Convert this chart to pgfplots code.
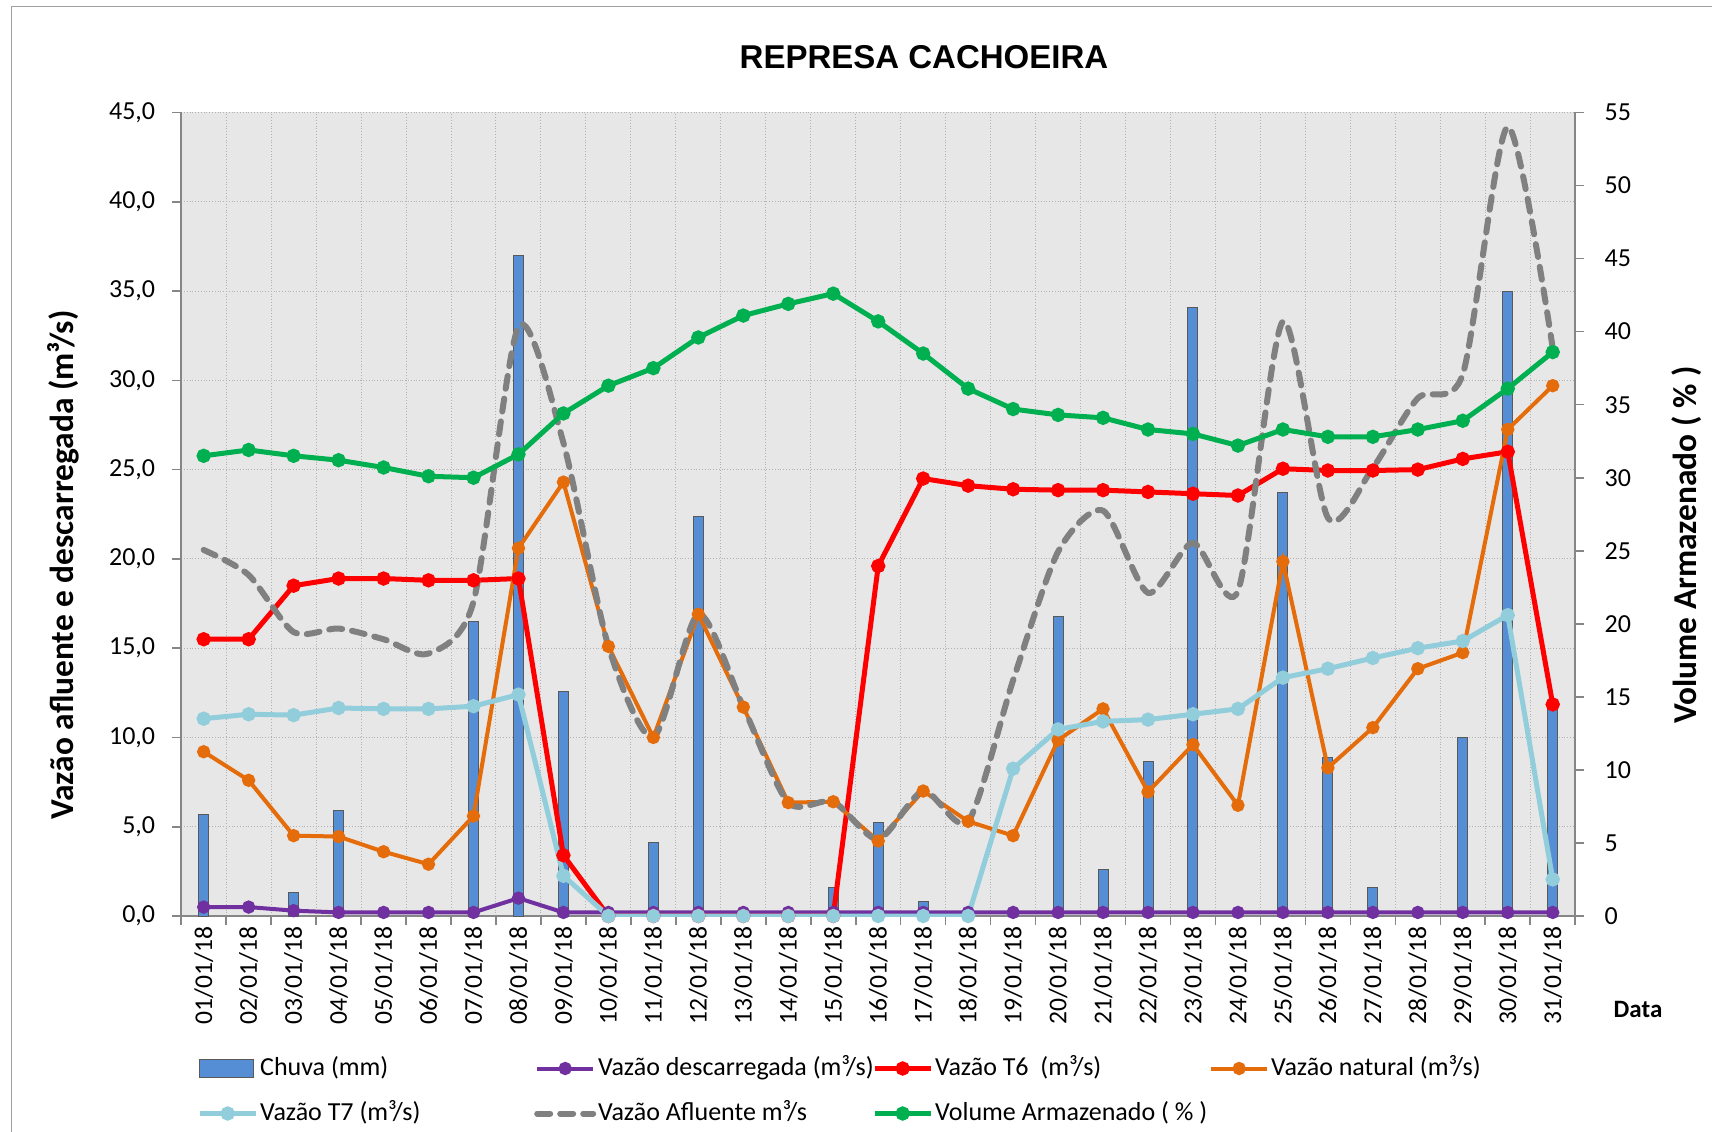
\documentclass[border=0pt]{standalone}
\usepackage{fontspec}
\setmainfont{Carlito}
\newfontfamily\arialfont{Liberation Sans}
\usepackage{pgfplots}
\pgfplotsset{compat=1.18}
\usepackage{pgfplotstable}

\definecolor{cbar}{RGB}{85,142,213}
\definecolor{cdesc}{RGB}{112,48,160}
\definecolor{ct6}{RGB}{255,0,0}
\definecolor{cnat}{RGB}{228,108,10}
\definecolor{ct7}{RGB}{146,205,220}
\definecolor{cafl}{RGB}{128,128,128}
\definecolor{cvol}{RGB}{0,176,80}
\definecolor{cbg}{RGB}{231,231,231}
\definecolor{caxis}{RGB}{134,134,134}

% dia, vazao descarregada, T6, natural, T7, afluente, volume (%)
\pgfplotstableread{
x  desc t6    nat   t7    afl   vol
1  0.5  15.5  9.2   11.05 20.5  31.5
2  0.5  15.5  7.6   11.3  19.1  31.9
3  0.3  18.5  4.5   11.25 15.9  31.5
4  0.2  18.9  4.45  11.65 16.1  31.2
5  0.2  18.9  3.6   11.6  15.5  30.7
6  0.2  18.8  2.9   11.6  14.7  30.1
7  0.2  18.8  5.6   11.75 17.6  30.0
8  1.0  18.9  20.6  12.4  33.0  31.6
9  0.2  3.4   24.3  2.25  26.5  34.4
10 0.2  0     15.1  0     15.1  36.3
11 0.2  0     10.0  0     10.0  37.5
12 0.2  0     16.9  0     16.9  39.6
13 0.2  0     11.7  0     11.7  41.1
14 0.2  0     6.35  0     6.35  41.9
15 0.2  0     6.4   0     6.4   42.6
16 0.2  19.6  4.2   0     4.3   40.7
17 0.2  24.5  7.0   0     7.0   38.5
18 0.2  24.1  5.3   0     5.3   36.1
19 0.2  23.9  4.5   8.25  13.2  34.7
20 0.2  23.85 9.85  10.45 20.4  34.3
21 0.2  23.85 11.6  10.9  22.7  34.1
22 0.2  23.75 6.95  11.0  18.1  33.3
23 0.2  23.65 9.6   11.3  20.9  33.0
24 0.2  23.55 6.2   11.6  18.2  32.2
25 0.2  25.05 19.85 13.35 33.3  33.3
26 0.2  24.95 8.3   13.85 22.3  32.8
27 0.2  24.95 10.55 14.45 25.1  32.8
28 0.2  25.0  13.85 15.0  29.0  33.3
29 0.2  25.6  14.75 15.4  30.35 33.9
30 0.2  26.0  27.25 16.85 44.2  36.1
31 0.2  11.85 29.7  2.05  31.8  38.6
}\dados

\pgfplotsset{
  linha/.style={line width=#1, mark=*, mark size=2.3pt, mark options={solid}},
  volstyle/.style={cvol, linha=2.5pt, mark options={solid, fill=cvol}},
  lineimg/.style={legend image code/.code={%
    \draw[mark repeat=2, mark phase=2, ##1] plot coordinates {(0pt,0pt) (14pt,0pt) (28pt,0pt)};}},
}

\begin{document}
\begin{tikzpicture}[x=1pt,y=1pt]
\useasboundingbox (0,0) rectangle (856,565.5);
\draw[gray!75, line width=0.6pt] (5.85,-5) |- (870,562.15);

\begin{axis}[
  at={(90.6pt,107.5pt)}, anchor=south west,
  scale only axis, width=697pt, height=401.75pt,
  xmin=0.5, xmax=31.5, ymin=0, ymax=45,
  axis x line*=bottom, axis y line*=left,
  axis line style={caxis, line width=0.8pt},
  axis background/.style={fill=cbg},
  tick align=outside, tick style={caxis, line width=0.8pt},
  major tick length=4.5pt,
  xtick={0.5,1.5,...,31.5}, xticklabels={},
  extra x ticks={1,...,31},
  extra x tick labels={01/01/18,02/01/18,03/01/18,04/01/18,05/01/18,06/01/18,07/01/18,08/01/18,09/01/18,10/01/18,11/01/18,12/01/18,13/01/18,14/01/18,15/01/18,16/01/18,17/01/18,18/01/18,19/01/18,20/01/18,21/01/18,22/01/18,23/01/18,24/01/18,25/01/18,26/01/18,27/01/18,28/01/18,29/01/18,30/01/18,31/01/18},
  extra x tick style={grid=none, major tick length=0pt,
    xticklabel style={rotate=90, anchor=east, inner sep=0pt, font=\fontsize{12.8}{14}\selectfont}},
  xticklabel shift=5pt,
  ytick={0,5,...,45},
  yticklabel shift=5pt,
  yticklabel style={font=\fontsize{13}{15}\selectfont,
    /pgf/number format/.cd, fixed, fixed zerofill, precision=1, use comma, assume math mode=true},
  xmajorgrids, ymajorgrids,
  grid style={densely dotted, gray!60, line width=0.5pt},
  legend columns=4,
  legend cell align=left,
  legend style={at={(0,0)}, anchor=west, xshift=7.8pt, yshift=-87.5pt,
    draw=none, fill=none, inner sep=0pt, row sep=10pt,
    font=\fontsize{13}{15}\selectfont,
    nodes={inner sep=0pt, text height=9.5pt, text depth=3pt},
    /tikz/every odd column/.style={column sep=1pt}},
]
\addplot[ybar, bar width=5pt, fill=cbar, draw=black!65, line width=0.5pt,
  legend image code/.code={\draw[##1] (0pt,-4.5pt) rectangle (27pt,4.5pt);}]
  coordinates {(1,5.7) (3,1.3) (4,5.9) (7,16.5) (8,37.0) (9,12.6) (11,4.1)
    (12,22.4) (15,1.6) (16,5.25) (17,0.8) (18,0.15) (20,16.8) (21,2.6) (22,8.65)
    (23,34.1) (25,23.7) (26,8.85) (27,1.6) (29,10.0) (30,35.0) (31,11.75)};
\addlegendentry{\makebox[137pt][l]{Chuva (mm)}}
\addplot[cdesc, linha=2pt, mark options={solid, fill=cdesc}, lineimg] table[x=x,y=desc]{\dados};
\addlegendentry{\makebox[137pt][l]{Vazão descarregada (m³/s)}}
\addplot[ct6, linha=2.5pt, mark options={solid, fill=ct6}, lineimg] table[x=x,y=t6]{\dados};
\addlegendentry{\makebox[137pt][l]{Vazão T6\ \ (m³/s)}}
\addplot[cnat, linha=2pt, mark options={solid, fill=cnat}, lineimg] table[x=x,y=nat]{\dados};
\addlegendentry{\makebox[137pt][l]{Vazão natural (m³/s)}}
\addplot[ct7, linha=2.5pt, mark options={solid, fill=ct7}, lineimg] table[x=x,y=t7]{\dados};
\addlegendentry{\makebox[137pt][l]{Vazão T7 (m³/s)}}
\addplot[cafl, line width=3pt, smooth, tension=0.45, dash pattern=on 6.5pt off 5pt, line cap=round, lineimg] table[x=x,y=afl]{\dados};
\addlegendentry{\makebox[137pt][l]{Vazão Afluente m³/s}}
\addlegendimage{volstyle, lineimg}
\addlegendentry{\makebox[137pt][l]{Volume Armazenado ( \% )}}
\end{axis}

\begin{axis}[
  at={(90.6pt,107.5pt)}, anchor=south west,
  scale only axis, width=697pt, height=401.75pt,
  xmin=0.5, xmax=31.5, ymin=0, ymax=55,
  axis x line=none, axis y line*=right,
  axis line style={caxis, line width=0.8pt},
  tick align=outside, tick style={caxis, line width=0.8pt},
  major tick length=4.2pt,
  ytick={0,5,...,55},
  yticklabel shift=7pt,
  yticklabel style={font=\fontsize{13}{15}\selectfont,
    /pgf/number format/assume math mode=true},
]
\addplot[volstyle] table[x=x,y=vol]{\dados};
\end{axis}

\node[font=\arialfont\bfseries\fontsize{16.5}{19}\selectfont] at (462,537) {REPRESA CACHOEIRA};
\node[rotate=90, font=\bfseries\fontsize{16.7}{19}\selectfont] at (31.5,283) {Vazão afluente e descarregada (m³/s)};
\node[rotate=90, font=\bfseries\fontsize{16.7}{19}\selectfont] at (843.5,293) {Volume Armazenado ( \% )};
\node[font=\bfseries\fontsize{12.5}{15}\selectfont] at (819,61) {Data};
\end{tikzpicture}
\end{document}
